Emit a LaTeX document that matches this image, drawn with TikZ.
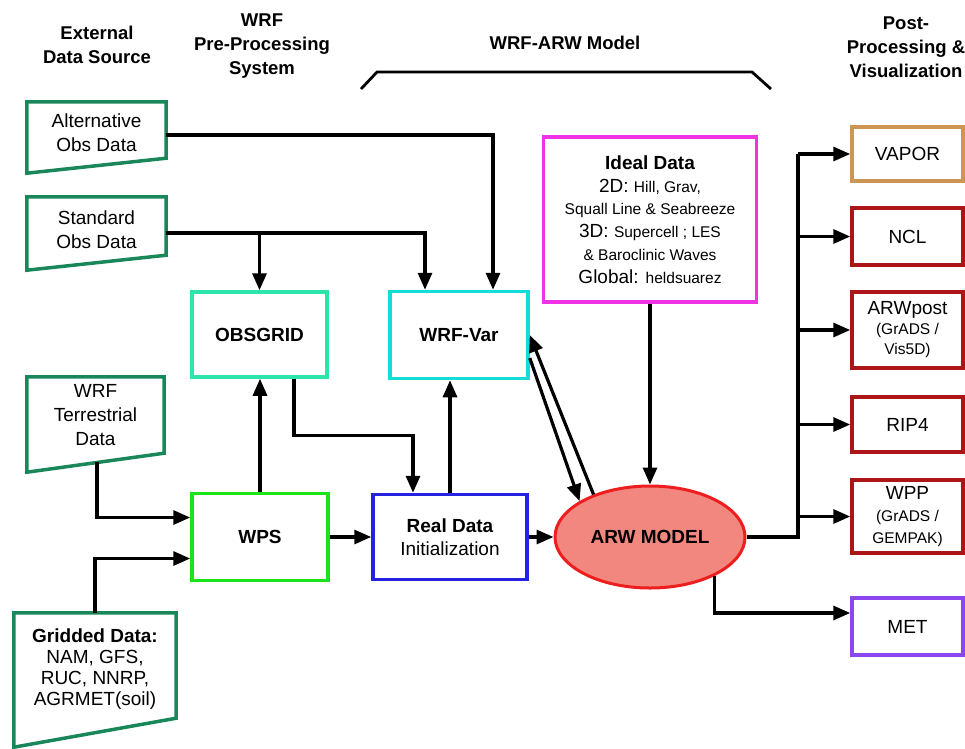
\documentclass[tikz,border=0pt]{standalone}
\usepackage{fontspec}
\setmainfont{Liberation Sans}
\usetikzlibrary{arrows.meta,shapes.geometric,calc}
\definecolor{trapc}{RGB}{25,135,90}
\definecolor{obsc}{RGB}{45,228,170}
\definecolor{varc}{RGB}{20,220,215}
\definecolor{wpsc}{RGB}{25,228,25}
\definecolor{realc}{RGB}{35,35,225}
\definecolor{idealc}{RGB}{238,50,228}
\definecolor{arwfill}{RGB}{242,135,128}
\definecolor{arwline}{RGB}{238,30,30}
\definecolor{vaporc}{RGB}{205,150,85}
\definecolor{postc}{RGB}{172,20,22}
\definecolor{metc}{RGB}{140,70,240}
\newcommand\myfs{\fontsize{19}{24}\selectfont}
\newcommand\myfh{\fontsize{18.5}{24}\selectfont\bfseries}
\newcommand\myfb{\fontsize{19}{22.8}\selectfont}
\newcommand\myfm{\fontsize{15.5}{22.8}\selectfont}
\newcommand\myfp{\fontsize{15.5}{21}\selectfont}
\begin{document}
\begin{tikzpicture}[x=1pt,y=-1pt,
  conn/.style={line width=3.2pt,-{Triangle[length=17pt,width=14pt]}},
  wire/.style={line width=3.2pt},
  box/.style={draw,line width=3.5pt,align=center,inner sep=0pt,font=\myfs},
  lbl/.style={align=center,inner sep=0pt,font=\myfs},
  trap/.style={draw=trapc,line width=3.5pt,line join=miter},
  hdr/.style={align=center,inner sep=0pt,font=\myfh}]
\useasboundingbox (0,0) rectangle (965,748);

% headers
\node[hdr] (h1) at (97,45) {External\\Data Source};
\node[hdr] (h2) at (262,46) {WRF\\Pre-Processing\\System};
\node[hdr] (h3) at (565,43) {WRF-ARW Model};
\node[hdr] (h4) at (906,47) {Post-\\Processing \&\\Visualization};
\draw[line width=2.8pt] (361,89) -- (377,72) -- (752,72) -- (771,89);

% external data sources (trapezoids)
\node[lbl,minimum width=139,minimum height=62] (alt) at (96.5,133) {Alternative\\Obs Data};
\draw[trap] (alt.north west) -- (alt.north east) -- ($(alt.south east)+(0,-6)$) -- ($(alt.south west)+(0,9)$) -- cycle;
\node[lbl,minimum width=139,minimum height=66] (std) at (96.5,230) {Standard\\Obs Data};
\draw[trap] (std.north west) -- (std.north east) -- ($(std.south east)+(0,-8)$) -- ($(std.south west)+(0,7)$) -- cycle;
\node[lbl,minimum width=137,minimum height=76] (terr) at (95.5,415) {WRF\\Terrestrial\\Data};
\draw[trap] (terr.north west) -- (terr.north east) -- (terr.south east) -- ($(terr.south west)+(0,19)$) -- cycle;
\node[lbl,minimum width=162,minimum height=112,font=\fontsize{19}{21}\selectfont] (grid) at (95,669) {{\bfseries Gridded Data:}\\NAM, GFS,\\RUC, NNRP,\\AGRMET(soil)};
\draw[trap] (grid.north west) -- (grid.north east) -- ($(grid.south east)+(0,-7)$) -- ($(grid.south west)+(0,22)$) -- cycle;

% processing boxes
\node[box,draw=obsc,minimum width=135,minimum height=85] (obsgrid) at (259.5,334.5) {\bfseries OBSGRID};
\node[box,draw=varc,minimum width=138,minimum height=87] (wrfvar) at (459,335) {\bfseries WRF-Var};
\node[box,draw=wpsc,minimum width=136,minimum height=87] (wps) at (260,537) {\bfseries WPS};
\node[box,draw=realc,minimum width=154,minimum height=85,font=\fontsize{19}{23}\selectfont] (real) at (450,537) {{\bfseries Real Data}\\Initialization};
\node[box,draw=idealc,minimum width=213,minimum height=165,font=\myfb] (ideal) at (650,219.5)
  {{\bfseries Ideal Data}\\
   2D: {\myfm Hill, Grav,}\\
   {\myfm Squall Line \& Seabreeze}\\
   3D: {\myfm Supercell ; LES}\\
   {\myfm \& Baroclinic Waves}\\
   Global: {\myfm heldsuarez}};
\node[ellipse,draw=arwline,fill=arwfill,line width=3pt,minimum width=190,minimum height=102,inner sep=0pt,font=\myfs] (arw) at (650,537) {\bfseries ARW MODEL};

% post-processing boxes
\node[box,draw=vaporc,minimum width=111,minimum height=54] (vapor) at (907.5,154) {VAPOR};
\node[box,draw=postc,minimum width=111,minimum height=57] (ncl) at (907.5,236.5) {NCL};
\node[box,draw=postc,minimum width=111,minimum height=76,font=\fontsize{19}{20}\selectfont] (arwpost) at (907.5,330) {ARWpost\\{\myfp (GrADS /}\\{\myfp Vis5D)}};
\node[box,draw=postc,minimum width=111,minimum height=55] (rip) at (907.5,424.5) {RIP4};
\node[box,draw=postc,minimum width=111,minimum height=73,font=\fontsize{19}{22}\selectfont] (wpp) at (907.5,516.5) {WPP\\{\myfp (GrADS /}\\{\myfp GEMPAK)}};
\node[box,draw=metc,minimum width=111,minimum height=57] (met) at (907.5,626.5) {MET};

% connectors
\draw[conn] ($(alt.east)+(0,2)$) -| ($(wrfvar.north)+(34,0)$);
\draw[conn] ($(std.east)+(0,3)$) -| (obsgrid.north);
\draw[conn] ($(std.east)+(0,3)$) -| ($(wrfvar.north)+(-34,0)$);
\draw[conn] ($(terr.south)+(1.5,9)$) |- ($(wps.west)+(0,-19.5)$);
\draw[conn] (grid.north) |- ($(wps.west)+(0,21.5)$);
\draw[conn] (wps.north) -- (wps.north |- obsgrid.south);
\draw[conn] ($(obsgrid.south)+(34.5,0)$) -- ++(0,57) -| ($(real.north)+(-37,0)$);
\draw[conn] (wps.east) -- (real.west);
\draw[conn] (real.north) -- (real.north |- wrfvar.south);
\draw[conn] (real.east) -- (arw.west);
\draw[conn] (ideal.south) -- (arw.north);
\draw[conn] (arw.143.7) -- (wrfvar.east);
\draw[conn] ($(wrfvar.east)+(0,23)$) -- (arw.153.4);

\coordinate (busb) at (798,537);
\draw[wire] (arw.east) -- (busb) -- (busb |- vapor.west);
\draw[conn] (busb |- vapor.west) -- (vapor.west);
\draw[conn] (busb |- ncl.west) -- (ncl.west);
\draw[conn] (busb |- arwpost.west) -- (arwpost.west);
\draw[conn] (busb |- rip.west) -- (rip.west);
\draw[conn] (busb |- wpp.west) -- (wpp.west);
\draw[conn] (arw.-31) |- ($(met.west)+(0,-13.5)$);
\end{tikzpicture}
\end{document}
